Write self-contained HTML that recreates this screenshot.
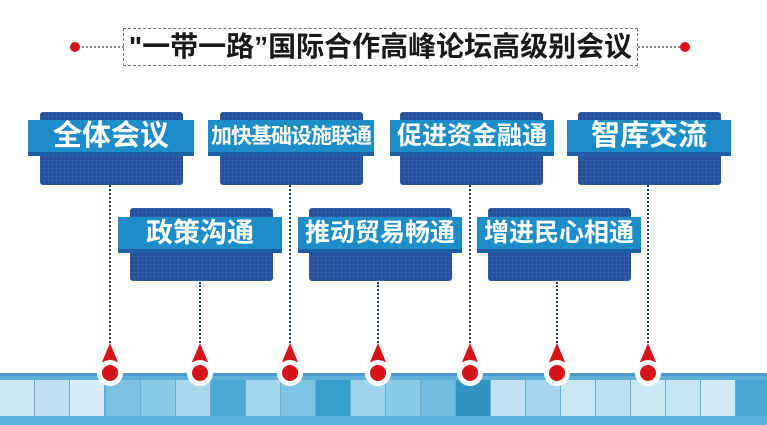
<!DOCTYPE html>
<html><head><meta charset="utf-8"><style>
body{margin:0;width:767px;height:422px;background:#fff;position:relative;overflow:hidden;font-family:"Liberation Sans","Noto Sans CJK SC",sans-serif}
.title{position:absolute;left:123px;top:28px;width:513px;height:36px;border:1px dashed #777;font-size:28px;font-weight:bold;color:#1a1a1a;line-height:36px;text-align:center;white-space:nowrap}
.dl{position:absolute;top:46px;width:46px;border-top:2px dotted #888}
.rd{position:absolute;top:42px;width:10px;height:10px;border-radius:50%;background:#d8141b}
.box{position:absolute;width:143px;height:73px;background:#234f9c;border-radius:3px;
background-image:linear-gradient(rgba(255,255,255,.06) 1px,transparent 1px),linear-gradient(90deg,rgba(255,255,255,.06) 1px,transparent 1px);background-size:4px 4px}
.ban{position:absolute;height:32px;background:#1c8dc8;border-bottom:4px solid #1d5fa6;color:#fff;font-weight:bold;text-align:center;line-height:33px;white-space:nowrap}
.v{position:absolute;width:0;border-left:2px dotted #1f3a66}
.tri{position:absolute;width:0;height:0;border-left:8px solid transparent;border-right:8px solid transparent;border-bottom:19px solid #d8141b}
.cir{position:absolute;width:16px;height:16px;border-radius:50%;background:#d8141b;border:5px solid #fff}
.strip{position:absolute;left:0;top:373px;width:767px;height:49px;background:#5fb0d8;border-top:3px solid #4c9ac6}
.t{position:absolute;top:4px;height:36px;width:34px}
</style></head><body>
<div class="dl" style="left:78px"></div><div class="rd" style="left:70px"></div>
<div class="dl" style="left:638px"></div><div class="rd" style="left:680px"></div>
<div class="title">"一带一路”国际合作高峰论坛高级别会议</div>

<div class="v" style="left:109px;top:185px;height:158px"></div>
<div class="v" style="left:199px;top:282px;height:61px"></div>
<div class="v" style="left:289px;top:185px;height:158px"></div>
<div class="v" style="left:377px;top:282px;height:61px"></div>
<div class="v" style="left:469px;top:185px;height:158px"></div>
<div class="v" style="left:556px;top:282px;height:61px"></div>
<div class="v" style="left:647px;top:185px;height:158px"></div>

<div class="box" style="left:40px;top:112px"></div><div class="ban" style="left:28px;top:120px;width:166px;font-size:29px">全体会议</div>
<div class="box" style="left:220px;top:112px"></div><div class="ban" style="left:208px;top:120px;width:166px;font-size:21px;letter-spacing:-1px">加快基础设施联通</div>
<div class="box" style="left:400px;top:112px"></div><div class="ban" style="left:390px;top:120px;width:164px;font-size:25px">促进资金融通</div>
<div class="box" style="left:578px;top:112px"></div><div class="ban" style="left:567px;top:120px;width:164px;font-size:29px">智库交流</div>

<div class="box" style="left:130px;top:208px"></div><div class="ban" style="left:118px;top:217px;width:164px;font-size:27px">政策沟通</div>
<div class="box" style="left:309px;top:208px"></div><div class="ban" style="left:298px;top:217px;width:164px;font-size:25px">推动贸易畅通</div>
<div class="box" style="left:488px;top:208px"></div><div class="ban" style="left:477px;top:217px;width:164px;font-size:25px">增进民心相通</div>

<div class="strip">
<div class="t" style="left:0;background:#cde7f5"></div><div class="t" style="left:35px;background:#bfe0f2"></div><div class="t" style="left:70px;background:#d6ecf7"></div>
<div class="t" style="left:106px;background:#7cc1e2"></div><div class="t" style="left:141px;background:#8bcbe7"></div><div class="t" style="left:176px;background:#a9d8ee"></div>
<div class="t" style="left:211px;background:#4ba9d3"></div><div class="t" style="left:246px;background:#a3d5ec"></div><div class="t" style="left:281px;background:#7fc3e3"></div>
<div class="t" style="left:316px;background:#3a9ecb"></div><div class="t" style="left:351px;background:#9fd3eb"></div><div class="t" style="left:386px;background:#8ccbe7"></div>
<div class="t" style="left:421px;background:#70bde0"></div><div class="t" style="left:456px;background:#3194c3"></div><div class="t" style="left:491px;background:#bfe1f2"></div>
<div class="t" style="left:526px;background:#a6d6ed"></div><div class="t" style="left:561px;background:#c8e6f4"></div><div class="t" style="left:596px;background:#bde0f2"></div>
<div class="t" style="left:631px;background:#cde8f5"></div><div class="t" style="left:666px;background:#c4e3f3"></div><div class="t" style="left:701px;background:#d2eaf6"></div>
<div class="t" style="left:736px;background:#4aa7d1;width:31px"></div>
</div>

<div class="tri" style="left:102px;top:343px"></div><div class="cir" style="left:97px;top:360px"></div>
<div class="tri" style="left:192px;top:343px"></div><div class="cir" style="left:187px;top:360px"></div>
<div class="tri" style="left:282px;top:343px"></div><div class="cir" style="left:277px;top:360px"></div>
<div class="tri" style="left:370px;top:343px"></div><div class="cir" style="left:365px;top:360px"></div>
<div class="tri" style="left:462px;top:343px"></div><div class="cir" style="left:457px;top:360px"></div>
<div class="tri" style="left:549px;top:343px"></div><div class="cir" style="left:544px;top:360px"></div>
<div class="tri" style="left:640px;top:343px"></div><div class="cir" style="left:635px;top:360px"></div>
</body></html>
